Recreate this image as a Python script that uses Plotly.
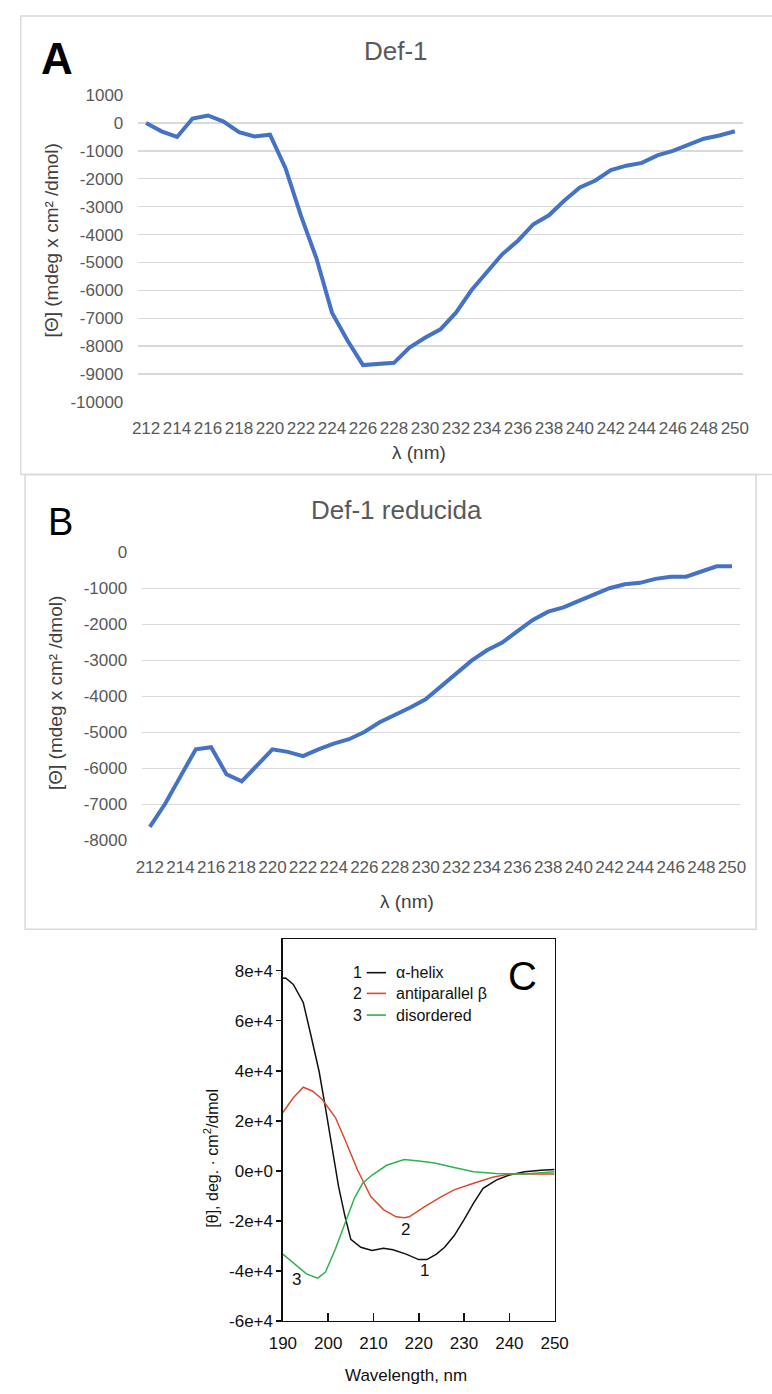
import plotly.graph_objects as go

W, H = 772, 1394

# ---------------- data ----------------
wavelength_AB = list(range(212, 251))
tick_AB = list(range(212, 251, 2))

theta_def1 = [0, -300, -500, 160, 270, 50, -330, -480, -420, -1620, -3330, -4860,
              -6800, -7800, -8680, -8650, -8600, -8050, -7700, -7400, -6800, -6000,
              -5340, -4700, -4220, -3630, -3310, -2780, -2310, -2060, -1690, -1530,
              -1430, -1160, -1000, -770, -565, -450, -295]

theta_def1_red = [-7620, -6980, -6220, -5470, -5410, -6160, -6360, -5900, -5470, -5540,
                  -5660, -5470, -5310, -5190, -4990, -4720, -4530, -4310, -4080, -3720,
                  -3350, -3010, -2720, -2510, -2190, -1880, -1650, -1530, -1350, -1170,
                  -1000, -890, -850, -740, -680, -680, -530, -390, -390]

yticks_A = [1000, 0, -1000, -2000, -3000, -4000, -5000, -6000, -7000, -8000, -9000, -10000]
yticks_A_text = ["1000", "0", "-1000", "-2000", "-3000", "-4000", "-5000", "-6000",
                 "-7000", "-8000", "-9000", "-10000"]
yticks_B = [0, -1000, -2000, -3000, -4000, -5000, -6000, -7000, -8000]
yticks_B_text = ["0", "-1000", "-2000", "-3000", "-4000", "-5000", "-6000", "-7000", "-8000"]

helix_x = [190, 190.6, 192.3, 194.5, 196.2, 198.0, 199.4, 201.2, 202.3, 203.7, 205.0,
           207.2, 209.7, 212.2, 214.3, 217.2, 220.0, 221.8, 223.9, 225.7, 227.8, 230.0,
           232.1, 234.2, 237.1, 240.0, 243.4, 247.0, 250.0]
helix_y = [77000, 77100, 74500, 67300, 54100, 39700, 25200, 6000, -6300, -18100, -27400,
           -30600, -31900, -31000, -31600, -33300, -35500, -35500, -33300, -30600, -26000,
           -19500, -12900, -7000, -3700, -1700, -400, 200, 500]

beta_x = [190, 192.3, 194.5, 196.6, 198.7, 201.6, 203.7, 205.1, 206.5, 209.4, 212.2,
          215.0, 216.8, 217.9, 221.4, 225.0, 227.8, 232.1, 236.3, 240.0, 245.0, 250.0]
beta_y = [23300, 29200, 33400, 31800, 28500, 21300, 12500, 6500, 200, -10300, -15500,
          -18400, -18800, -18400, -14200, -10300, -7600, -5000, -2600, -1300, -1200, -1300]

disord_x = [190, 193.0, 195.2, 197.7, 199.4, 201.6, 203.7, 205.8, 207.6, 209.7, 212.9,
            216.8, 220.0, 223.5, 227.8, 232.1, 237.0, 243.4, 250.0]
disord_y = [-33300, -37900, -41200, -42900, -40500, -31300, -20800, -10900, -5000, -1700,
            2200, 4500, 3900, 3100, 1300, -400, -1100, -1300, -400]

xticks_C = [190, 200, 210, 220, 230, 240, 250]
yticks_C = [80000, 60000, 40000, 20000, 0, -20000, -40000, -60000]
yticks_C_text = ["8e+4", "6e+4", "4e+4", "2e+4", "0e+0", "-2e+4", "-4e+4", "-6e+4"]

legend_num = ["1", "2", "3"]
legend_names = ["α-helix", "antiparallel β", "disordered"]
C_colors = ["#111111", "#e0482f", "#2fb34c"]

curve_labels = ["1", "2", "3"]
curve_label_x = [221.3, 217.0, 193.0]
curve_label_y = [-39700, -23500, -43300]

# ---------------- helpers ----------------
def fx(p):
    return p / W

def fy(p):
    return 1 - p / H

FONT = "Liberation Sans, Arial, sans-serif"
BLUE = "#4472C4"
GRID = "#d9d9d9"
GRAYTXT = "#595959"
DARKTXT = "#404040"

fig = go.Figure()

fig.add_trace(go.Scatter(x=wavelength_AB, y=theta_def1, mode="lines",
                         line=dict(color=BLUE, width=4), xaxis="x", yaxis="y",
                         hoverinfo="skip"))
fig.add_trace(go.Scatter(x=wavelength_AB, y=theta_def1_red, mode="lines",
                         line=dict(color=BLUE, width=4), xaxis="x2", yaxis="y2",
                         hoverinfo="skip"))
for xs, ys, col in zip([helix_x, beta_x, disord_x], [helix_y, beta_y, disord_y], C_colors):
    fig.add_trace(go.Scatter(x=xs, y=ys, mode="lines", line=dict(color=col, width=1.5),
                             xaxis="x3", yaxis="y3", hoverinfo="skip"))

tickfont_AB = dict(family=FONT, size=17, color=GRAYTXT)
tickfont_C = dict(family=FONT, size=17, color="#111111")

layout = dict(
    width=W, height=H, margin=dict(l=0, r=0, t=0, b=0),
    paper_bgcolor="white", plot_bgcolor="white", showlegend=False,
    xaxis=dict(domain=[fx(129), fx(756)], range=[211.5, 250.5], tickvals=tick_AB,
               showgrid=False, zeroline=False, showline=False, ticks="",
               tickfont=tickfont_AB, ticklabelstandoff=14, anchor="y"),
    yaxis=dict(domain=[fy(398.3), fy(87.3)], range=[-10000, 1000], tickvals=yticks_A,
               ticktext=yticks_A_text, showgrid=True, gridcolor=GRID, gridwidth=1.4,
               zeroline=False, showline=False, ticks="", tickfont=tickfont_AB,
               ticklabelstandoff=14, anchor="x"),
    xaxis2=dict(domain=[fx(133), fx(753)], range=[211.5, 250.5], tickvals=tick_AB,
                showgrid=False, zeroline=False, showline=False, ticks="",
                tickfont=tickfont_AB, ticklabelstandoff=14, anchor="y2"),
    yaxis2=dict(domain=[fy(843), fy(550.7)], range=[-8000, 0], tickvals=yticks_B,
                ticktext=yticks_B_text, showgrid=True, gridcolor=GRID, gridwidth=1.4,
                zeroline=False, showline=False, ticks="", tickfont=tickfont_AB,
                ticklabelstandoff=14, anchor="x2"),
    xaxis3=dict(domain=[fx(279), fx(561)], range=[190, 250], tickvals=xticks_C,
                showgrid=False, zeroline=False, showline=True, mirror=True,
                linecolor="#111111", linewidth=1.5, ticks="inside", ticklen=8,
                tickwidth=1.5, tickcolor="#111111", tickfont=tickfont_C,
                ticklabelstandoff=6, anchor="y3"),
    yaxis3=dict(domain=[fy(1330), fy(943)], range=[-60000, 92620], tickvals=yticks_C,
                ticktext=yticks_C_text, showgrid=False, zeroline=False, showline=True,
                mirror=True, linecolor="#111111", linewidth=1.5, ticks="outside",
                ticklen=5, tickwidth=1.5, tickcolor="#111111", tickfont=tickfont_C,
                anchor="x3"),
)
fig.update_layout(**layout)

shapes = [
    # panel A frame
    dict(type="rect", xref="paper", yref="paper", x0=fx(7), x1=fx(790), y0=fy(472), y1=fy(7),
         line=dict(color=GRID, width=1.5), fillcolor="rgba(0,0,0,0)", layer="below"),
    # panel B frame
    dict(type="rect", xref="paper", yref="paper", x0=fx(11.5), x1=fx(770), y0=fy(933), y1=fy(472),
         line=dict(color=GRID, width=1.5), fillcolor="rgba(0,0,0,0)", layer="below"),
]
# legend lines for C
leg_y = [977, 998, 1020]
for yy, col in zip(leg_y, C_colors):
    shapes.append(dict(type="line", xref="paper", yref="paper", x0=fx(366), x1=fx(386),
                       y0=fy(yy), y1=fy(yy), line=dict(color=col, width=1.6)))
fig.update_layout(shapes=shapes)

ann = []
def A(text, x, y, size, color="#000", angle=0, xanchor="center", yanchor="middle", bold=False,
      family=FONT):
    t = f"<b>{text}</b>" if bold else text
    ann.append(dict(text=t, x=fx(x), y=fy(y), xref="paper", yref="paper", showarrow=False,
                    font=dict(family=family, size=size, color=color), textangle=angle,
                    xanchor=xanchor, yanchor=yanchor))

# Panel A
A("A", 45, 50, 44, "#000000", bold=True)
A("Def-1", 396, 43, 26, GRAYTXT)
A("[Θ] (mdeg x cm² /dmol)", 39, 235, 19, DARKTXT, angle=-90)
A("λ (nm)", 420, 450, 19, DARKTXT)
# Panel B
A("B", 48, 520, 38, "#000000")
A("Def-1 reducida", 397, 508, 26, GRAYTXT)
A("[Θ] (mdeg x cm² /dmol)", 43, 693, 19, DARKTXT, angle=-90)
A("λ (nm)", 408, 905, 19, DARKTXT)
# Panel C
A("C", 528, 980, 40, "#000000")
A("[θ], deg. · cm<sup>2</sup>/dmol", 205, 1165, 16, "#111111", angle=-90)
A("Wavelength, nm", 407, 1385, 17, "#111111")
for num, name, yy in zip(legend_num, legend_names, leg_y):
    A(num, 356, yy, 16, "#111111")
    A(name, 394, yy, 16, "#111111", xanchor="left")

for lab, lx, ly in zip(curve_labels, curve_label_x, curve_label_y):
    ann.append(dict(text=lab, x=lx, y=ly, xref="x3", yref="y3", showarrow=False,
                    font=dict(family=FONT, size=17, color="#111111")))

fig.update_layout(annotations=ann)

fig.write_html("out.html", config={"displayModeBar": False, "staticPlot": True},
               post_script="document.body.style.margin='0';document.body.style.overflow='hidden';")
